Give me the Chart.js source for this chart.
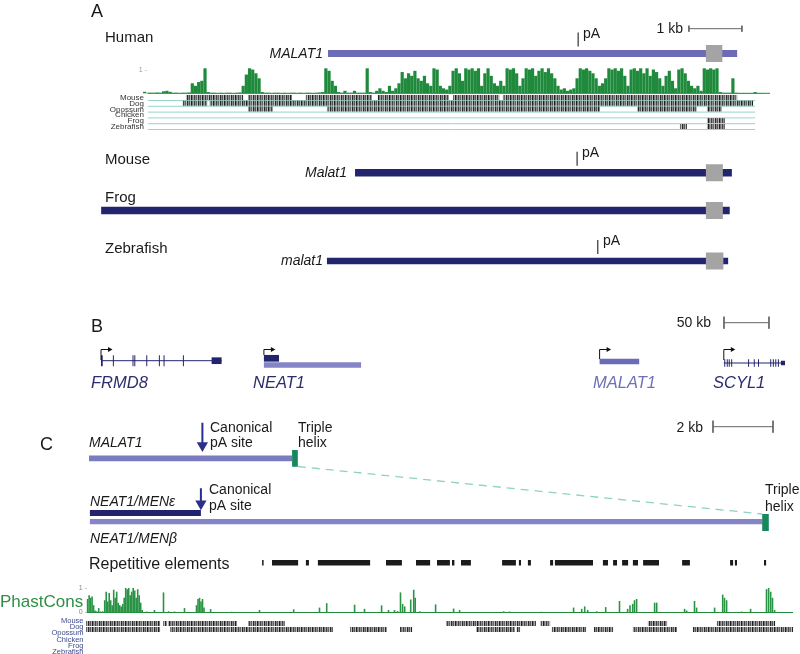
<!DOCTYPE html>
<html lang="en">
<head>
  <meta charset="UTF-8" />
  <title>MALAT1 / NEAT1 gene structure</title>
  <script src="https://cdn.jsdelivr.net/npm/chart.js"></script>
  <style>
    body { margin: 0; background: #fff; }
    canvas { display: block; }
  </style>
</head>
<body>
  <canvas id="fig" width="800" height="654"></canvas>

  <script>
    // ---- panel A : MALAT1 in four species (kb, human TSS = 0) ----
    const speciesA = ['Human', 'Mouse', 'Frog', 'Zebrafish'];
    const geneA = ['MALAT1', 'Malat1', '', 'malat1'];
    const txStartA = [0, 0.51, -4.28, -0.02];
    const txEndA = [7.72, 7.62, 7.58, 7.55];
    const pASiteA = [4.72, 4.70, null, 5.09];
    const helixBoxA = [[7.13, 7.44], [7.13, 7.45], [7.13, 7.45], [7.13, 7.46]];

    // phastCons over human MALAT1, one value per 0.06 kb bin from -3.4 kb
    const consAStart = -3.4;
    const consAStep = 0.06;
    const consA = [
      0.06, 0.02, 0.02, 0.02, 0.03, 0.02, 0.08, 0.1, 0.06, 0.02, 0.02, 0.01, 0.02, 0.02, 0.03,
      0.4, 0.3, 0.45, 0.5, 1.0,
      0.05, 0.02, 0.02, 0.01, 0.02, 0.01, 0.02, 0.02, 0.01, 0.02, 0.03,
      0.3, 0.75, 1.0, 0.95, 0.8, 0.6,
      0.05, 0.02, 0.02, 0.01, 0.02, 0.02, 0.01, 0.02, 0.01, 0.02, 0.02, 0.01, 0.02, 0.01, 0.02, 0.02, 0.01, 0.02, 0.03, 0.05,
      1.0, 0.9, 0.5, 0.3,
      0.05, 0.02, 0.1, 0.02, 0.02, 0.1, 0.02, 0.02, 0.02,
      1.0,
      0.05, 0.02, 0.1, 0.2, 0.1, 0.05, 0.3, 0.1, 0.2,
      0.4, 0.85, 0.6, 0.8, 0.7, 0.9, 0.6, 0.5, 0.7, 0.4, 0.3, 1.0, 0.95,
      0.3, 0.2, 0.15, 0.3,
      0.9, 1.0, 0.8, 0.5, 1.0, 0.95, 1.0, 0.9, 1.0,
      0.3, 0.8, 1.0, 0.7, 0.4, 0.3, 0.5, 0.3,
      1.0, 0.95, 1.0, 0.8,
      0.3, 0.6,
      1.0, 0.95, 1.0, 0.7, 0.9, 1.0, 0.85, 1.0, 0.8, 0.6,
      0.3, 0.15, 0.2, 0.1, 0.15, 0.2,
      0.6, 1.0, 0.95, 1.0, 0.9, 0.8, 0.6,
      0.3, 0.4, 0.6,
      1.0, 0.95, 1.0, 0.9, 1.0, 0.7,
      0.3,
      0.95, 1.0, 0.9, 1.0, 0.8, 1.0, 0.7, 0.95, 0.85, 0.6,
      0.3, 0.7, 0.9, 0.5, 0.2,
      0.95, 1.0, 0.8, 0.5,
      0.3, 0.2, 0.3, 0.1,
      1.0, 0.95, 1.0, 0.95, 1.0,
      0.05, 0.02, 0.02, 0.02,
      0.6,
      0.02, 0.01, 0.01, 0.01, 0.01, 0.01, 0.05, 0.01, 0.01
    ];

    const alignSpecies = ['Mouse', 'Dog', 'Opossum', 'Chicken', 'Frog', 'Zebrafish'];
    const alignA = [
      [[-2.68, -1.60], [-1.51, -0.68], [-0.42, 0.83], [0.94, 2.28], [2.36, 3.23], [3.30, 7.72]],
      [[-2.74, -2.28], [-2.23, 8.02]],
      [[-1.51, -1.04], [-0.02, 5.13], [5.83, 6.96], [7.15, 7.43]],
      [],
      [[7.15, 7.49]],
      [[6.64, 6.77], [7.15, 7.49]]
    ];

    // ---- panel B : locus (kb from FRMD8 TSS) ----
    const genesB = ['FRMD8', 'NEAT1', 'MALAT1', 'SCYL1'];
    const geneStartB = [0, 181, 554, 692];
    const frmd8Span = [0, 134];
    const frmd8Exons = [[0, 1.9], [13.2, 14.3], [35, 36.1], [37, 38.1], [50.3, 51.4], [64.3, 65.4], [69.5, 70.6], [91, 92.1]];
    const frmd8Utr = [122.9, 134];
    const neat1Short = [181, 197.8];
    const neat1Long = [181, 289];
    const malat1B = [554, 598];
    const scyl1Span = [692, 760];
    const scyl1Exons = [[692.5, 693.6], [695.3, 696.4], [697.5, 698.6], [700.2, 701.3], [719, 720.1], [725.3, 726.4],
      [730, 731.1], [743.6, 744.7], [746.5, 747.6], [749.2, 750.3], [752.1, 753.2]];
    const scyl1Utr = [755.5, 760];

    // ---- panel C : MALAT1 vs NEAT1 (kb from TSS) ----
    const malat1C = [0, 6.77];
    const neat1MenE = [0.03, 3.73];
    const neat1MenB = [0.03, 22.45];
    const tripleHelixC = [[6.77, 6.96], [22.44, 22.66]];
    const pASiteC = [3.78, 3.73];
    const repeatsC = [[5.77, 5.82], [6.1, 6.97], [7.23, 7.33], [7.63, 9.37], [9.9, 10.43], [10.9, 11.37], [11.6, 12.03],
      [12.1, 12.18], [12.4, 12.73], [13.77, 14.23], [14.33, 14.4], [14.63, 14.73], [15.37, 15.47], [15.53, 16.8],
      [17.13, 17.3], [17.47, 17.6], [17.77, 17.97], [18.13, 18.3], [18.47, 19.0], [19.77, 20.03], [21.37, 21.47],
      [21.53, 21.6], [22.5, 22.57]];
    // phastCons peaks [kb, score]
    const consC = [
      [-0.10, 0.55], [-0.05, 0.7], [0, 0.6], [0.05, 0.65], [0.10, 0.3], [0.15, 0.08], [0.2, 0.05], [0.27, 0.18],
      [0.33, 0.04], [0.4, 0.05], [0.47, 0.5], [0.52, 0.85], [0.57, 0.45], [0.62, 0.8], [0.67, 0.5], [0.72, 0.3],
      [0.77, 0.93], [0.82, 0.6], [0.87, 0.85], [0.92, 0.4], [0.97, 0.3], [1.02, 0.25], [1.07, 0.35], [1.12, 0.6],
      [1.17, 1.0], [1.22, 0.95], [1.27, 1.0], [1.32, 0.7], [1.37, 0.85], [1.42, 1.0], [1.47, 0.9], [1.52, 0.6],
      [1.57, 0.95], [1.62, 0.7], [1.67, 0.4], [1.72, 0.1], [1.87, 0.04], [2.13, 0.1], [2.43, 0.82], [2.6, 0.05],
      [2.8, 0.04], [3.13, 0.18], [3.53, 0.3], [3.58, 0.55], [3.63, 0.6], [3.68, 0.45], [3.73, 0.55], [3.78, 0.2],
      [4.0, 0.14], [4.7, 0.03], [5.63, 0.1], [6.77, 0.13], [7.63, 0.2], [7.87, 0.38], [8.8, 0.32], [9.13, 0.15],
      [9.7, 0.29], [9.93, 0.1], [10.13, 0.1], [10.23, 0.06], [10.33, 0.82], [10.4, 0.35], [10.47, 0.25],
      [10.67, 0.53], [10.77, 0.93], [10.82, 0.6], [10.97, 0.05], [11.5, 0.33], [12.1, 0.16], [12.3, 0.1],
      [13.77, 0.05], [13.97, 0.04], [15.03, 0.03], [16.1, 0.2], [16.37, 0.15], [16.47, 0.25], [16.57, 0.1],
      [16.87, 0.05], [17.17, 0.22], [17.63, 0.47], [17.9, 0.15], [17.98, 0.3], [18.07, 0.35], [18.13, 0.5],
      [18.2, 0.55], [18.8, 0.4], [18.87, 0.4], [19.8, 0.15], [19.87, 0.08], [20.13, 0.47], [20.2, 0.2],
      [20.8, 0.2], [21.07, 0.73], [21.13, 0.6], [21.2, 0.5], [21.7, 0.04], [22.0, 0.15], [22.53, 0.95],
      [22.6, 1.0], [22.67, 0.85], [22.73, 0.6], [22.8, 0.1]
    ];
    const alignC = [
      [[-0.1, 2.37], [2.47, 2.6], [2.63, 4.93], [5.3, 6.53], [11.9, 14.9], [15.05, 15.37], [18.63, 19.27], [20.93, 22.87]],
      [[-0.1, 2.37], [2.7, 8.13], [8.7, 9.93], [10.37, 10.77], [12.9, 14.2], [14.25, 14.37], [15.43, 16.57],
        [16.83, 17.47], [18.13, 19.6], [20.13, 23.47]]
    ];

    // ---- layout ----
    const W = 800, H = 654;
    const FONT = '"Liberation Sans", Arial, sans-serif';
    const NAVY = '#23246e', LAV = '#6b6bb6', LAV2 = '#8484c6', GREEN = '#1f8a3b', TEAL = '#98d6ca';

    function xRange(originPx, pxPerUnit) {
      const min = -originPx / pxPerUnit;
      return { min, max: min + W / pxPerUnit };
    }
    function yRange(zeroPx, pxPerUnit) {
      const min = -(H - zeroPx) / pxPerUnit;
      return { min, max: min + H / pxPerUnit };
    }

    function barcode() {
      const c = document.createElement('canvas');
      c.width = 11; c.height = 4;
      const g = c.getContext('2d');
      const shades = ['#2a2a2a', '#8a8a8a', '#555555', '#b5b5b5', '#1e1e1e', '#777777', '#9e9e9e', '#444444', '#8f8f8f', '#666666', '#bdbdbd'];
      shades.forEach((s, i) => { g.fillStyle = s; g.fillRect(i, 0, 1, 4); });
      return g.createPattern(c, 'repeat');
    }
    const GRAYS = barcode();

    const datasets = [];
    function bars(xAxisID, spans, ys, width, color) {
      const data = [];
      spans.forEach((s, i) => {
        const y = Array.isArray(ys) ? ys[i] : ys;
        data.push({ x: s[0], y }, { x: s[1], y }, { x: s[1], y: null });
      });
      datasets.push({
        type: 'line', xAxisID, yAxisID: 'yRow', data, borderColor: color, borderWidth: width,
        borderCapStyle: 'butt', pointRadius: 0, spanGaps: false, tension: 0, fill: false
      });
    }
    function path(xAxisID, pts, width, color, extra) {
      datasets.push(Object.assign({
        type: 'line', xAxisID, yAxisID: 'yRow', data: pts.map(p => ({ x: p[0], y: p[1] })),
        borderColor: color, borderWidth: width, borderCapStyle: 'butt', borderJoinStyle: 'miter',
        pointRadius: 0, tension: 0, fill: false
      }, extra || {}));
    }
    function arrow(xAxisID, pts, width, color, headR, rot) {
      path(xAxisID, pts, width, color, {
        pointRadius: pts.map((p, i) => i === pts.length - 1 ? headR : 0),
        pointStyle: 'triangle', pointRotation: rot,
        pointBackgroundColor: color, pointBorderColor: color, pointBorderWidth: 0
      });
    }
    function scaleBar(xAxisID, a, b, y, tick) {
      path(xAxisID, [[a, y], [b, y]], 1, '#666');
      path(xAxisID, [[a, y - tick], [a, y + tick]], 1, '#666');
      path(xAxisID, [[b, y - tick], [b, y + tick]], 1, '#666');
    }

    // panel A
    const rowA = [53.5, 172.8, 210.5, 261];
    const bodyWA = [7, 7.5, 7.5, 6.6];
    speciesA.forEach((s, i) => bars('xA', [[txStartA[i], txEndA[i]]], rowA[i], bodyWA[i], i === 0 ? LAV : NAVY));
    bars('xA', helixBoxA, rowA, 17, '#a4a4a4');
    pASiteA.forEach((p, i) => { if (p !== null) path('xA', [[p, rowA[i] - 21], [p, rowA[i] - 7]], 1.2, '#333'); });
    scaleBar('xA', 6.81, 7.81, 28.7, 3);
    alignSpecies.forEach((s, i) => bars('xA', [[-3.4, 8.06]], 100.5 + 5.8 * i, 1, TEAL));
    alignA.forEach((segs, i) => { if (segs.length) bars('xA', segs, 97.4 + 5.8 * i, 5, GRAYS); });
    bars('xA', [[-3.4, 8.34]], 93.3, 1, GREEN);
    datasets.push({
      type: 'bar', xAxisID: 'xA', yAxisID: 'yConsA',
      data: consA.map((v, i) => ({ x: consAStart + i * consAStep, y: v })),
      backgroundColor: GREEN, barThickness: 3.2, borderWidth: 0, inflateAmount: 0
    });

    // panel B
    const pxB = 0.9;
    bars('xB', [frmd8Span], 360.7, 1, NAVY);
    bars('xB', frmd8Exons, 360.7, 11, NAVY);
    bars('xB', [frmd8Utr], 360.7, 6.7, NAVY);
    bars('xB', [neat1Short], 358.3, 6.7, NAVY);
    bars('xB', [neat1Long], 365, 5.6, LAV2);
    bars('xB', [malat1B], 361.5, 5.5, LAV);
    bars('xB', [scyl1Span], 363, 1, NAVY);
    bars('xB', scyl1Exons, 363, 7.5, NAVY);
    bars('xB', [scyl1Utr], 363, 4.5, NAVY);
    const tssTopB = [360, 355, 359, 360];
    geneStartB.forEach((g, i) => {
      arrow('xB', [[g, tssTopB[i]], [g, 349.5], [g + 8.5 / pxB, 349.5]], 1, '#111', 3, 90);
    });
    scaleBar('xB', 692.2, 742.2, 322.7, 6);

    // panel C
    bars('xC', [malat1C], 458.3, 5.8, '#7b7bc0');
    bars('xC', [neat1MenE], 513, 6, NAVY);
    bars('xC', [neat1MenB], 521.7, 5.3, LAV2);
    path('xC', [[tripleHelixC[0][1], 466.5], [tripleHelixC[1][0], 514]], 1.3, '#8fd1c3', { borderDash: [8, 6] });
    bars('xC', tripleHelixC, [458.3, 522.5], 16.8, '#17875d');
    arrow('xC', [[pASiteC[0], 422.7], [pASiteC[0], 445.5]], 2, '#2c2e8c', 6.5, 180);
    arrow('xC', [[pASiteC[1], 488.3], [pASiteC[1], 503.8]], 2, '#2c2e8c', 6.5, 180);
    scaleBar('xC', 20.8, 22.8, 426.7, 6);
    bars('xC', repeatsC, 562.8, 5.6, '#1b1b1b');
    bars('xC', [[-0.07, 23.47]], 612.5, 1, GREEN);
    datasets.push({
      type: 'bar', xAxisID: 'xC', yAxisID: 'yConsC',
      data: consC.map(p => ({ x: p[0], y: p[1] })),
      backgroundColor: '#2a9445', barThickness: 1.6, borderWidth: 0, inflateAmount: 0
    });
    alignC.forEach((segs, i) => bars('xC', segs, 623.5 + 6 * i, 5, GRAYS));

    // later pushes paint on top
    datasets.forEach((d, i) => { d.order = -i; });

    const labels = [
      { t: 'A', x: 91, y: 17, size: 18 },
      { t: 'Human', x: 105, y: 42, size: 15 },
      { t: geneA[0], x: 323, y: 58, size: 14, italic: true, align: 'right' },
      { t: 'pA', x: 583, y: 38, size: 14 },
      { t: '1 kb', x: 683, y: 33, size: 14, align: 'right' },
      { t: '1 -', x: 147, y: 72, size: 7, color: '#999', align: 'right' },
      { t: 'Mouse', x: 105, y: 164, size: 15 },
      { t: geneA[1], x: 347, y: 177, size: 14, italic: true, align: 'right' },
      { t: 'pA', x: 582, y: 157, size: 14 },
      { t: 'Frog', x: 105, y: 202, size: 15 },
      { t: 'Zebrafish', x: 105, y: 253, size: 15 },
      { t: geneA[3], x: 323, y: 265, size: 14, italic: true, align: 'right' },
      { t: 'pA', x: 603, y: 245, size: 14 },

      { t: 'B', x: 91, y: 332, size: 18 },
      { t: '50 kb', x: 711, y: 327, size: 14, align: 'right' },
      { t: genesB[0], x: 91, y: 388, size: 16.5, italic: true, color: '#2b2d6e' },
      { t: genesB[1], x: 253, y: 388, size: 16.5, italic: true, color: '#2b2d6e' },
      { t: genesB[2], x: 593, y: 388, size: 16.5, italic: true, color: '#6f70b8' },
      { t: genesB[3], x: 713, y: 388, size: 16.5, italic: true, color: '#2b2d6e' },

      { t: 'C', x: 40, y: 450, size: 18 },
      { t: '2 kb', x: 703, y: 432, size: 14, align: 'right' },
      { t: 'MALAT1', x: 89, y: 447, size: 14, italic: true },
      { t: 'Canonical', x: 210, y: 432, size: 14 },
      { t: 'pA site', x: 210, y: 446.5, size: 14 },
      { t: 'Triple', x: 298, y: 432, size: 14 },
      { t: 'helix', x: 298, y: 447, size: 14 },
      { t: 'NEAT1/MENε', x: 90, y: 506, size: 14, italic: true },
      { t: 'Canonical', x: 209, y: 494, size: 14 },
      { t: 'pA site', x: 209, y: 510, size: 14 },
      { t: 'Triple', x: 765, y: 494, size: 14 },
      { t: 'helix', x: 765, y: 511, size: 14 },
      { t: 'NEAT1/MENβ', x: 90, y: 543, size: 14, italic: true },
      { t: 'Repetitive elements', x: 89, y: 569, size: 16 },
      { t: 'PhastCons', x: 0, y: 607, size: 17, color: '#2f8f46' },
      { t: '1 -', x: 87, y: 590, size: 7, color: '#888', align: 'right' },
      { t: '0 -', x: 87, y: 614, size: 7, color: '#888', align: 'right' }
    ];

    const textPlugin = {
      id: 'figText',
      afterDatasetsDraw(chart) {
        const ctx = chart.ctx;
        ctx.save();
        for (const l of labels) {
          ctx.font = `${l.italic ? 'italic ' : ''}${l.size}px ${FONT}`;
          ctx.fillStyle = l.color || '#1a1a1a';
          ctx.textAlign = l.align || 'left';
          ctx.textBaseline = 'alphabetic';
          ctx.fillText(l.t, l.x, l.y);
        }
        // species names beside the alignment rows
        ctx.textAlign = 'right';
        ctx.textBaseline = 'middle';
        ctx.font = `8px ${FONT}`;
        ctx.fillStyle = '#333';
        alignSpecies.forEach((s, i) => ctx.fillText(s, 144, 97.8 + 5.8 * i));
        ctx.font = `7.5px ${FONT}`;
        ctx.fillStyle = '#3d4b8e';
        alignSpecies.forEach((s, i) => ctx.fillText(s, 83.5, 621 + 6.2 * i));
        ctx.restore();
      }
    };

    const hidden = { display: false, offset: false, bounds: 'data', grid: { display: false }, ticks: { display: false } };

    new Chart(document.getElementById('fig'), {
      type: 'line',
      data: { datasets },
      options: {
        responsive: false,
        animation: false,
        events: [],
        layout: { padding: 0, autoPadding: false },
        plugins: { legend: { display: false }, tooltip: { enabled: false }, title: { display: false } },
        scales: {
          xA: { ...hidden, type: 'linear', axis: 'x', position: 'bottom', ...xRange(328, 53) },
          xB: { ...hidden, type: 'linear', axis: 'x', position: 'bottom', ...xRange(101, 0.9) },
          xC: { ...hidden, type: 'linear', axis: 'x', position: 'bottom', ...xRange(89, 30) },
          yRow: { ...hidden, type: 'linear', axis: 'y', position: 'left', reverse: true, min: 0, max: H },
          yConsA: { ...hidden, type: 'linear', axis: 'y', position: 'left', ...yRange(93.3, 25) },
          yConsC: { ...hidden, type: 'linear', axis: 'y', position: 'left', ...yRange(612.5, 24.5) }
        }
      },
      plugins: [textPlugin]
    });
  </script>
</body>
</html>
